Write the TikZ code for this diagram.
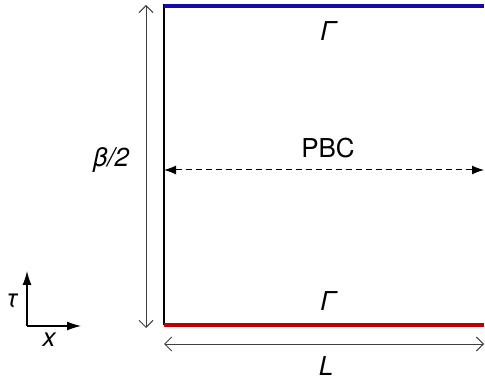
\documentclass[tikz,border=0pt]{standalone}
\usepackage{fontspec}
\setmainfont{TeX Gyre Heros}
\usepackage{xcolor}
\usetikzlibrary{arrows.meta, positioning}
\definecolor{gblue}{RGB}{20,10,170}
\definecolor{gred}{RGB}{190,0,0}

\begin{document}
\begin{tikzpicture}[x=1pt, y=-1pt,
    lbl/.style={font=\fontsize{26}{30}\selectfont, inner sep=0pt},
    dim/.style={draw=black!75, line width=0.9pt, {Straight Barb[length=7pt,width=14pt]}-{Straight Barb[length=7pt,width=14pt]}},
    bnd/.style={line width=4pt}]
    \useasboundingbox (0,0) rectangle (485,382);
    % box corners
    \coordinate (tl) at (164,6);
    \coordinate (tr) at (484,6);
    \coordinate (bl) at (164,325);
    \coordinate (br) at (484,325);
    \draw[black, line width=1.2pt] (164,4) -- (bl);
    \draw[gblue, bnd] (tl) -- (tr);
    \draw[gred, bnd] (bl) -- (br);
    \node[lbl] (gtop) at (328,31) {\itshape Γ};
    \node[lbl] (gbot) at (328,301) {\itshape Γ};
    % beta/2
    \coordinate (bt) at (146,5);
    \coordinate (bb) at (146,328);
    \draw[dim] (bt) -- (bb);
    \node[lbl] (beta) at (111,160) {\itshape β/2};
    % PBC
    \coordinate (pl) at (164,170);
    \coordinate (pr) at (484,170);
    \draw[dash pattern=on 6pt off 4pt, line width=1pt, {Latex[length=12pt,width=9pt]}-{Latex[length=12pt,width=9pt]}] (pl) -- (pr);
    \node[lbl] (pbc) at (328,148) {PBC};
    % L
    \coordinate (ll) at (164,344);
    \coordinate (lr) at (484,344);
    \draw[dim] (ll) -- (lr);
    \node[lbl] (len) at (326,366) {\itshape L};
    % axes
    \coordinate (o) at (27,326);
    \coordinate (ot) at (27,271);
    \coordinate (ox) at (81,326);
    \draw[line width=1.2pt, -{Latex[length=14pt,width=9pt]}] (o) -- (ot);
    \draw[line width=1.2pt, -{Latex[length=14pt,width=9pt]}] (o) -- (ox);
    \node[lbl] (tau) at (12,301) {\itshape τ};
    \node[lbl] (xax) at (49,340) {\itshape x};
\end{tikzpicture}
\end{document}
